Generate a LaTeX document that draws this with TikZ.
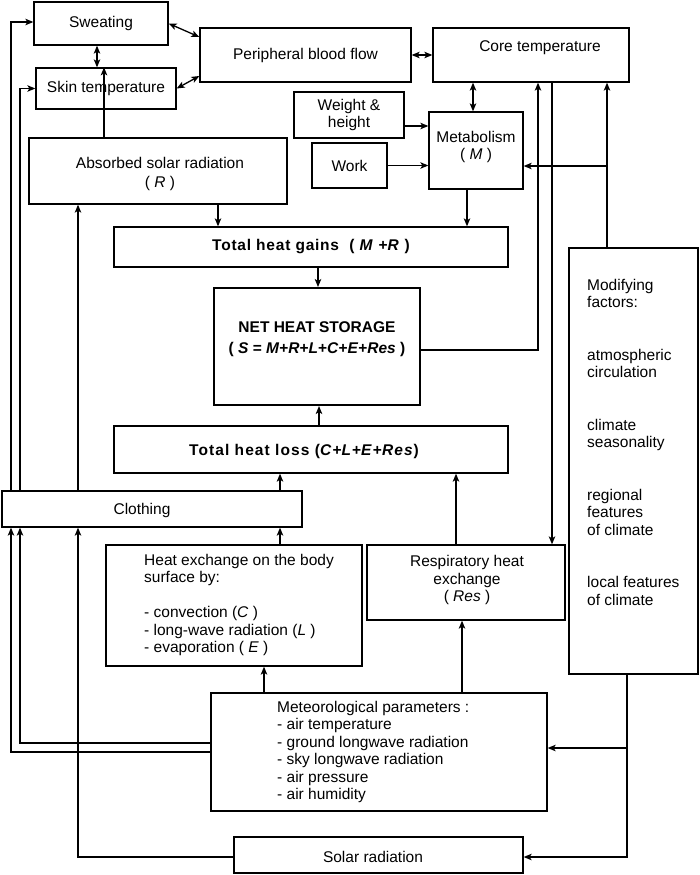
\documentclass[tikz,border=0pt]{standalone}
\usepackage{fontspec}
\setmainfont{Liberation Sans}
\usetikzlibrary{arrows.meta}
\newcommand\lsbold{\bfseries\addfontfeature{LetterSpace=5}}
\newcommand\lsboldw{\bfseries\addfontfeature{LetterSpace=7}}
\begin{document}
\begin{tikzpicture}[x=1pt,y=-1pt,
  every node/.style={font=\fontsize{15.5}{17.5}\selectfont, inner sep=0pt},
  box/.style={draw, line width=1.3pt, align=center},
  txt/.style={align=left, anchor=north west},
  conn/.style={line width=1.3pt, -{Stealth[length=8pt,width=6.5pt,inset=2pt]}},
  bconn/.style={line width=1.3pt, {Stealth[length=8pt,width=6.5pt,inset=2pt]}-{Stealth[length=8pt,width=6.5pt,inset=2pt]}},
  plain/.style={line width=1.3pt}]
\useasboundingbox (0,0) rectangle (700,875);

% boxes
\node[box, minimum width=134pt, minimum height=43pt] (sweat) at (101,23.5) {Sweating};
\node[box, minimum width=140pt, minimum height=41pt] (skin) at (106,88.5) {Skin temperature};
\node[box, minimum width=211pt, minimum height=54pt] (pbf) at (305.5,55) {Peripheral blood flow};
\node[box, minimum width=196pt, minimum height=54pt] (core) at (531,55) {};
\node (coretxt) at (540,48) {Core temperature};
\node[box, minimum width=110pt, minimum height=46pt] (wh) at (349,115) {Weight \&\\height};
\node[box, minimum width=75pt, minimum height=45pt] (work) at (349.5,165.5) {Work};
\node[box, minimum width=94pt, minimum height=77pt] (met) at (476,150.5) {};
\node[align=center] (mettxt) at (476,147) {Metabolism\\( \textit{M} )};
\node[box, minimum width=258pt, minimum height=66pt] (abs) at (158,171) {};
\node[align=center] (abstxt) at (160,174) {Absorbed solar radiation\\[2pt]( \textit{R} )};
\node[box, minimum width=394pt, minimum height=40pt] (gains) at (311,247) {{\lsbold Total heat gains~ ( \textit{M} +\textit{R} )}};
\node[box, line width=2pt, minimum width=206pt, minimum height=117pt] (net) at (317,346.5) {};
\node[align=center] (nettxt) at (317,339) {\textbf{NET HEAT STORAGE}\\[3.5pt]\textbf{( \textit{S} = \textit{M}+\textit{R}+\textit{L}+\textit{C}+\textit{E}+\textit{Res} )}};
\node[box, minimum width=394pt, minimum height=47pt] (loss) at (311,449.5) {};
\node (losstxt) at (304,451) {{\lsboldw Total heat loss (\textit{C}+\textit{L}+\textit{E}+\textit{Res})}};
\node[box, minimum width=300pt, minimum height=36pt] (cloth) at (152,509) {};
\node (clothtxt) at (142,510) {Clothing};
\node[box, minimum width=129pt, minimum height=426pt] (mod) at (633.5,461) {};
\node[txt] (modtxt) at (587,279) {Modifying\\factors:\\[35pt]atmospheric\\circulation\\[35pt]climate\\seasonality\\[35pt]regional\\features\\of climate\\[35pt]local features\\of climate};
\node[box, minimum width=256pt, minimum height=121pt] (hex) at (234,605.5) {};
\node[txt] (hextxt) at (144,554) {Heat exchange on the body\\surface by:\\[17.5pt]- convection (\textit{C} )\\- long-wave radiation (\textit{L} )\\- evaporation ( \textit{E} )};
\node[box, minimum width=198pt, minimum height=75pt] (resp) at (466,582.5) {};
\node[align=center] (resptxt) at (467,580) {Respiratory heat\\exchange\\( \textit{Res} )};
\node[box, minimum width=336pt, minimum height=118pt] (meteo) at (379,752) {};
\node[txt] (meteotxt) at (277,701) {Meteorological parameters :\\- air temperature\\- ground longwave radiation\\- sky longwave radiation\\- air pressure\\- air humidity};
\node[box, minimum width=289pt, minimum height=36pt] (solar) at (378.5,855) {};
\node (solartxt) at (373,857) {Solar radiation};

% junctions
\coordinate (j1) at (607,166);
\coordinate (j2) at (627,748);

% connectors
\draw[bconn] ([xshift=-4pt]sweat.south) -- ([xshift=-9pt]skin.north);
\draw[bconn] (sweat.east) -- ([yshift=18pt]pbf.west);
\draw[bconn] (skin.east) -- ([yshift=-21pt]pbf.west);
\draw[bconn] (pbf.east) -- (core.west);
\draw[bconn] ([xshift=-58pt]core.south) -- ([xshift=-3pt]met.north);
\draw[conn] ([yshift=-11pt]wh.east) -- ([yshift=-11pt]wh.east -| met.west);
\draw[conn] (work.east) -- (work.east -| met.west);
\draw[conn] ([xshift=-26.5pt]mod.north) -- ([xshift=76pt]core.south);
\draw[conn] (j1) -- (j1 -| met.east);
\draw[conn] ([yshift=-3.5pt]net.east) -| ([xshift=7pt]core.south);
\draw[conn] ([xshift=21pt]core.south) -- ([xshift=86pt]resp.north);
\draw[conn] ([xshift=-9pt]met.south) -- ([xshift=156pt]gains.north);
\draw[conn] ([xshift=60pt]abs.south) -- ([xshift=-93pt]gains.north);
\draw[conn] ([xshift=-54pt]abs.north) -- ([xshift=-2pt]skin.north);
\draw[conn] ([xshift=7pt]gains.south) -- ([xshift=1pt]net.north);
\draw[conn] ([xshift=8pt]loss.north) -- ([xshift=2pt]net.south);
\draw[conn] ([xshift=128pt]cloth.north) -- ([xshift=-31pt]loss.south);
\draw[conn] ([xshift=46pt]hex.north) -- ([xshift=128pt]cloth.south);
\draw[conn] ([xshift=-10pt]resp.north) -- ([xshift=145pt]loss.south);
\draw[conn] ([xshift=-115pt]meteo.north) -- ([xshift=30pt]hex.south);
\draw[conn] ([xshift=83pt]meteo.north) -- ([xshift=-4pt]resp.south);
\draw[conn] ([yshift=9pt]meteo.west) -| ([xshift=-132pt]cloth.south);
\draw[conn] (meteo.west) -| ([xshift=-141pt]cloth.south);
\draw[conn] ([xshift=-141pt]cloth.north) |- ([yshift=1.5pt]sweat.west);
\draw[conn] ([xshift=-132pt]cloth.north) |- (skin.west);
\draw[conn] ([yshift=-2pt]solar.west) -| ([xshift=-74pt]cloth.south);
\draw[conn] ([xshift=-74pt]cloth.north) -- ([xshift=-80pt]abs.south);
\draw[conn] ([xshift=-6.5pt]mod.south) |- ([yshift=-2pt]solar.east);
\draw[conn] (j2) -- (j2 -| meteo.east);
\end{tikzpicture}
\end{document}
